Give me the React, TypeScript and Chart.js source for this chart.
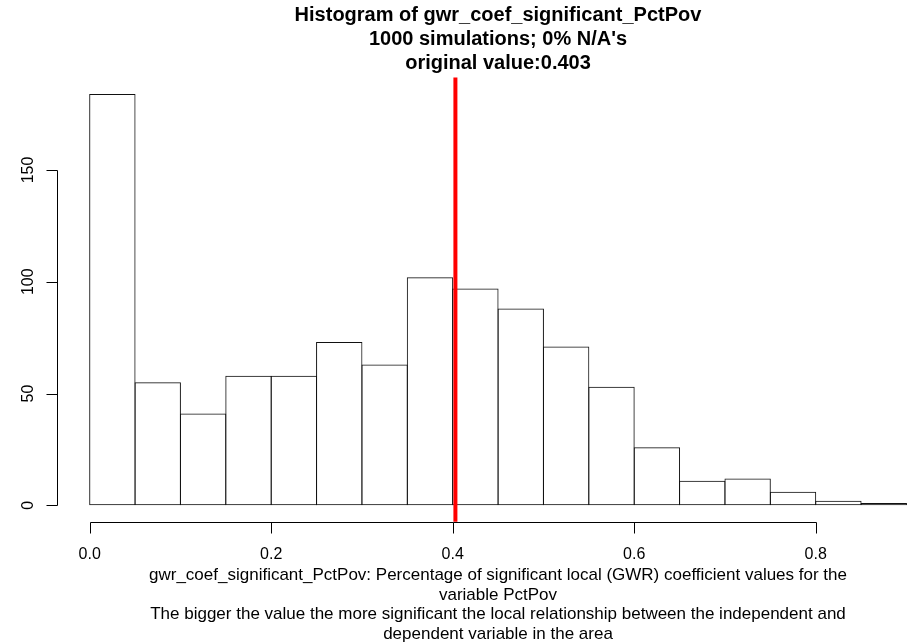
import React, { useEffect, useRef } from "react";
import { Chart, registerables } from "chart.js";

Chart.register(...registerables);

const binCenters = [0.025, 0.075, 0.125, 0.175, 0.225, 0.275, 0.325, 0.375, 0.425, 0.475, 0.525, 0.575, 0.625, 0.675, 0.725, 0.775, 0.825, 0.875];
const counts = [184, 55, 41, 58, 58, 73, 63, 102, 97, 88, 71, 53, 26, 11, 12, 6, 2, 1];
const xTicks = [0, 0.2, 0.4, 0.6, 0.8];
const xTickLabels = ["0.0", "0.2", "0.4", "0.6", "0.8"];
const yTicks = [0, 50, 100, 150];
const yTickLabels = ["0", "50", "100", "150"];
const originalValue = 0.403;
const titleLines = [
  "Histogram of gwr_coef_significant_PctPov",
  "1000 simulations; 0% N/A's",
  "original value:0.403",
];
const xLabelLines = [
  "gwr_coef_significant_PctPov: Percentage of significant local (GWR) coefficient values for the",
  "variable PctPov",
  "The bigger the value the more significant the local relationship between the independent and",
  "dependent variable in the area",
];

const FONT = '"Liberation Sans", Arial, sans-serif';

const rPlugin = {
  id: "rstyle",
  afterDatasetsDraw(chart: any) {
    const ctx = chart.ctx as CanvasRenderingContext2D;
    const xs = chart.scales.x;
    const ys = chart.scales.y;
    const area = chart.chartArea;
    ctx.save();
    // red line
    const rx = xs.getPixelForValue(originalValue);
    ctx.strokeStyle = "#ff0000";
    ctx.lineWidth = 4;
    ctx.beginPath();
    ctx.moveTo(rx, area.top);
    ctx.lineTo(rx, area.bottom);
    ctx.stroke();

    ctx.strokeStyle = "#000";
    ctx.lineWidth = 1;
    ctx.fillStyle = "#000";
    // y axis
    const ax = Math.round(area.left) + 0.5;
    const y0 = ys.getPixelForValue(yTicks[0]);
    const y1 = ys.getPixelForValue(yTicks[yTicks.length - 1]);
    ctx.beginPath();
    ctx.moveTo(ax, Math.round(y0) + 0.5);
    ctx.lineTo(ax, Math.round(y1) + 0.5);
    yTicks.forEach((v) => {
      const py = Math.round(ys.getPixelForValue(v)) + 0.5;
      ctx.moveTo(ax, py);
      ctx.lineTo(ax - 11, py);
    });
    ctx.stroke();
    ctx.font = `16px ${FONT}`;
    ctx.textAlign = "center";
    ctx.textBaseline = "alphabetic";
    yTicks.forEach((v, i) => {
      const py = ys.getPixelForValue(v);
      ctx.save();
      ctx.translate(33, py);
      ctx.rotate(-Math.PI / 2);
      ctx.fillText(yTickLabels[i], 0, 0);
      ctx.restore();
    });
    // x axis
    const ay = Math.round(area.bottom) + 0.5;
    const x0 = xs.getPixelForValue(xTicks[0]);
    const x1 = xs.getPixelForValue(xTicks[xTicks.length - 1]);
    ctx.beginPath();
    ctx.moveTo(Math.round(x0) + 0.5, ay);
    ctx.lineTo(Math.round(x1) + 0.5, ay);
    xTicks.forEach((v) => {
      const px = Math.round(xs.getPixelForValue(v)) + 0.5;
      ctx.moveTo(px, ay);
      ctx.lineTo(px, ay + 11);
    });
    ctx.stroke();
    xTicks.forEach((v, i) => {
      ctx.fillText(xTickLabels[i], xs.getPixelForValue(v), 559);
    });
    // titles
    const cx = 498;
    ctx.font = `bold 20px ${FONT}`;
    titleLines.forEach((t, i) => ctx.fillText(t, cx, 21 + i * 24));
    ctx.font = `17px ${FONT}`;
    xLabelLines.forEach((t, i) => ctx.fillText(t, cx, 580 + i * 19.5));
    ctx.restore();
  },
};

export default function App() {
  const ref = useRef<HTMLCanvasElement>(null);
  useEffect(() => {
    if (!ref.current) return;
    const chart = new Chart(ref.current, {
      type: "bar",
      data: {
        datasets: [
          {
            data: binCenters.map((x, i) => ({ x, y: counts[i] })),
            backgroundColor: "rgba(255,255,255,0)",
            borderColor: "#111",
            borderWidth: 1,
            borderSkipped: false,
            barPercentage: 1.022,
            categoryPercentage: 1,
          } as any,
        ],
      },
      options: {
        animation: false,
        responsive: false,
        devicePixelRatio: 1,
        layout: { padding: { left: 57, right: 0, top: 77.5, bottom: 121.3 } },
        plugins: { legend: { display: false }, tooltip: { enabled: false }, title: { display: false } },
        scales: {
          x: { type: "linear", min: -0.036, max: 0.9017, display: false, offset: false },
          y: { type: "linear", min: -7.36, max: 191.4, display: false },
        },
      },
      plugins: [rPlugin],
    });
    return () => chart.destroy();
  }, []);
  return (
    <div style={{ position: "fixed", left: 0, top: 0, width: 908, height: 643, background: "#fff" }}>
      <canvas ref={ref} width={908} height={643} style={{ width: 908, height: 643, display: "block" }} />
    </div>
  );
}
